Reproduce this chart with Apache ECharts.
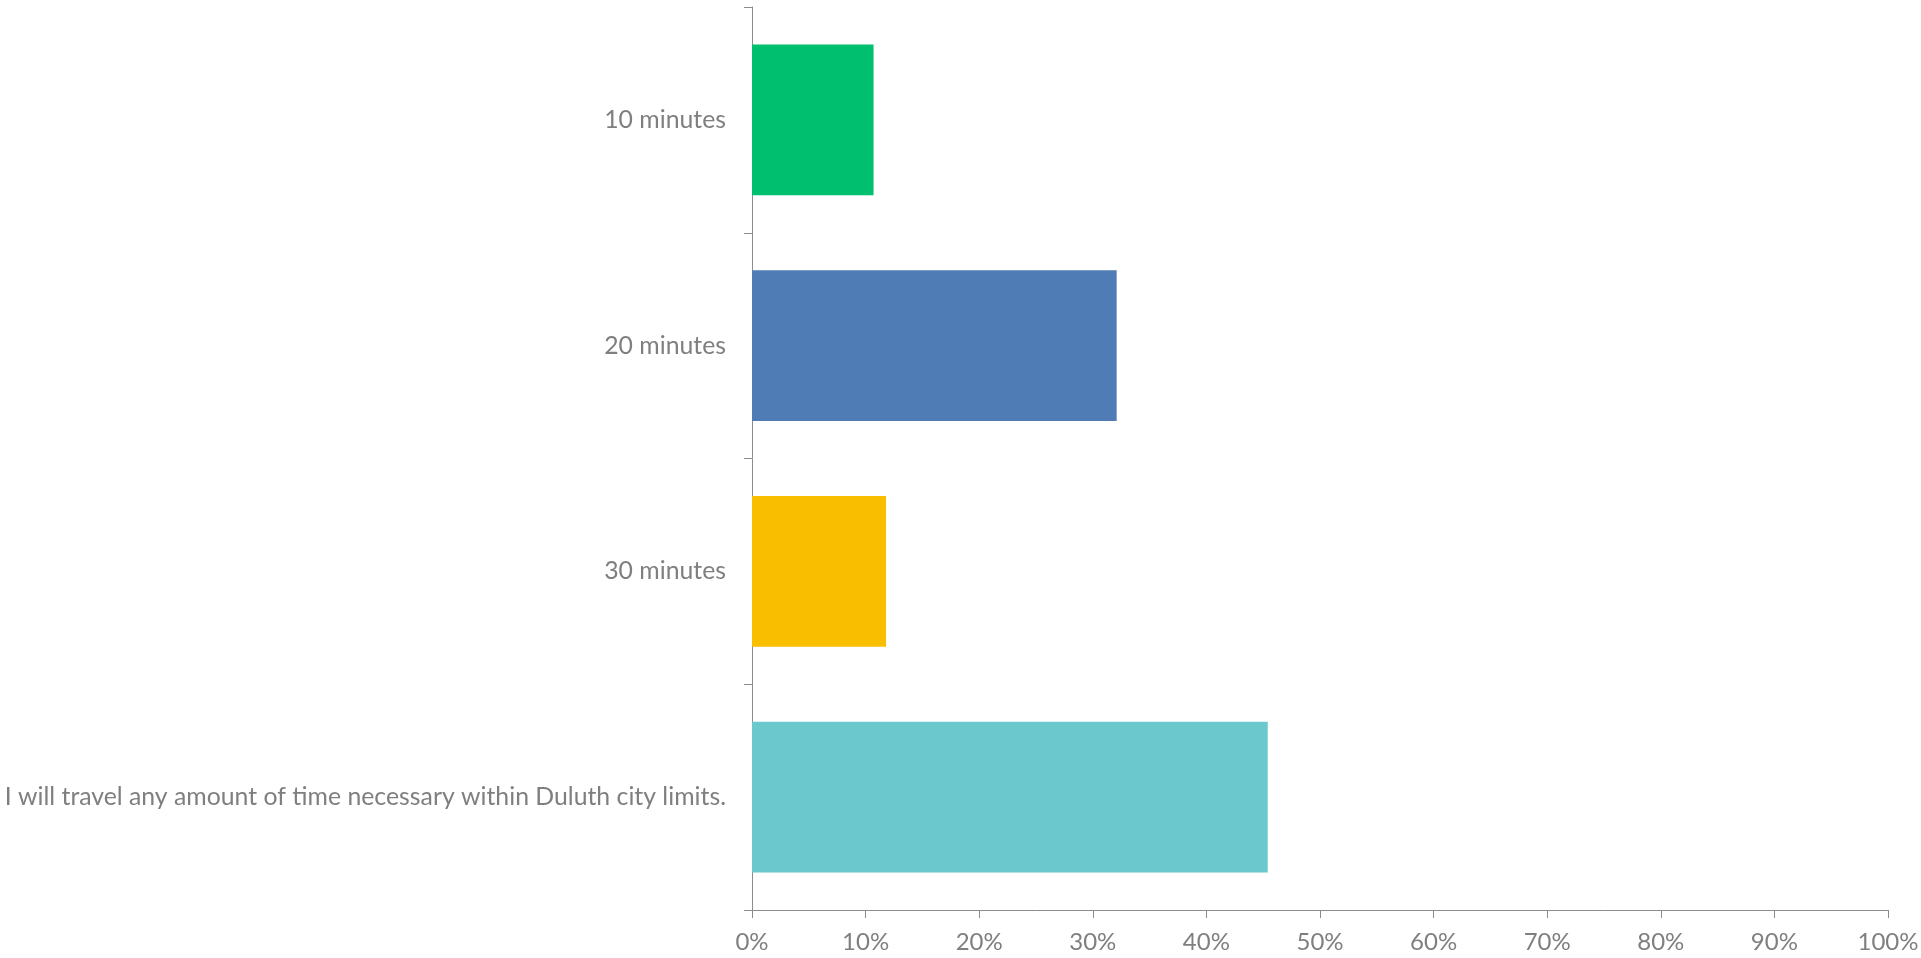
<!DOCTYPE html>
<html>
<head>
<meta charset="utf-8">
<script src="https://cdn.jsdelivr.net/npm/echarts@6/dist/echarts.min.js"></script>
<style>
html,body{margin:0;padding:0;background:#fff;}
#chart{width:1921px;height:958px;}
</style>
</head>
<body>
<div id="chart"></div>
<script>
const categories = ["10 minutes", "20 minutes", "30 minutes", "I will travel any amount of time necessary within Duluth city limits."];
const values = [10.7, 32.1, 11.8, 45.4];
const xTicks = [0, 10, 20, 30, 40, 50, 60, 70, 80, 90, 100];
const palette = ["#00BF6F", "#507CB6", "#F9BE00", "#6BC8CD"];

const FONT = "Lato, sans-serif";
const chart = echarts.init(document.getElementById('chart'), null, {renderer: 'canvas'});
chart.setOption({
  animation: false,
  backgroundColor: '#ffffff',
  grid: {left: 752, right: 33, top: 7, bottom: 48, containLabel: false, outerBoundsMode: 'none'},
  xAxis: {
    type: 'value',
    min: xTicks[0],
    max: xTicks[xTicks.length - 1],
    interval: 10,
    axisLine: {show: true, lineStyle: {color: '#8c8c8c', width: 1}},
    axisTick: {show: true, length: 8, lineStyle: {color: '#8c8c8c'}},
    splitLine: {show: false},
    axisLabel: {
      formatter: v => v + '%',
      color: '#7f7f7f', fontSize: 24, fontFamily: FONT, margin: 20
    }
  },
  yAxis: {
    type: 'category',
    data: categories,
    inverse: true,
    axisLine: {show: true, lineStyle: {color: '#8c8c8c', width: 1}},
    axisTick: {show: true, length: 8, alignWithLabel: false, lineStyle: {color: '#8c8c8c'}},
    axisLabel: {color: '#7f7f7f', fontSize: 24.8, fontFamily: FONT, margin: 26}
  },
  series: [{
    type: 'bar',
    data: values.map((v, i) => ({value: v, itemStyle: {color: palette[i]}})),
    barCategoryGap: '33.3%'
  }]
});
</script>
</body>
</html>
